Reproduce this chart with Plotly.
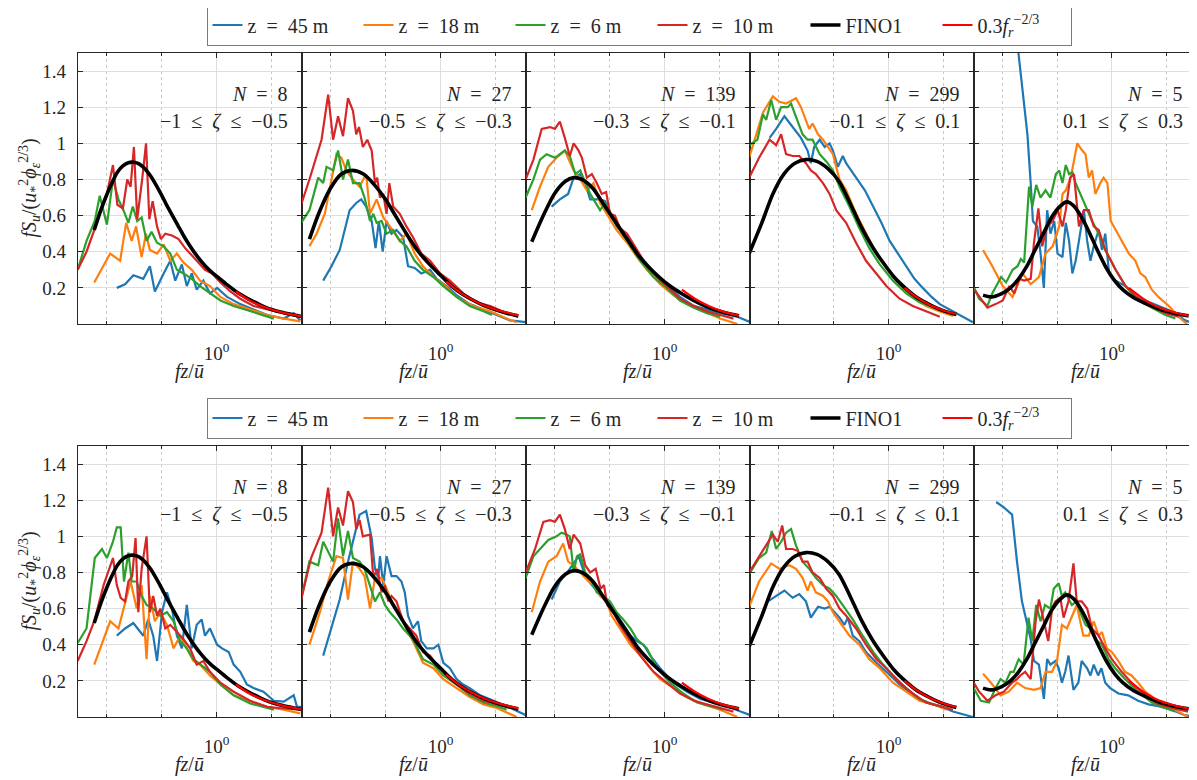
import numpy as np
import plotly.graph_objects as go

# ------------------------------------------------------------------ labels
series_labels = ["z\u2002=\u200245 m", "z\u2002=\u200218 m", "z\u2002=\u20026 m", "z\u2002=\u200210 m"]
fino_label = "FINO1"
law_label = "0.3<i>f<sub>r</sub></i><sup>\u22122/3</sup>"
n_labels = ["8", "27", "139", "299", "5"]
zeta_labels = ["\u22121\u2002\u2264\u2002<i>\u03b6</i>\u2002\u2264\u2002\u22120.5",
               "\u22120.5\u2002\u2264\u2002<i>\u03b6</i>\u2002\u2264\u2002\u22120.3",
               "\u22120.3\u2002\u2264\u2002<i>\u03b6</i>\u2002\u2264\u2002\u22120.1",
               "\u22120.1\u2002\u2264\u2002<i>\u03b6</i>\u2002\u2264\u20020.1",
               "0.1\u2002\u2264\u2002<i>\u03b6</i>\u2002\u2264\u20020.3"]
y_tick_values = [0.2, 0.4, 0.6, 0.8, 1.0, 1.2, 1.4]
y_tick_text = ["0.2", "0.4", "0.6", "0.8", "1", "1.2", "1.4"]
x_major_ticks = [1.0]
x_major_text = ["10<sup>0</sup>"]
x_minor_ticks = [0.01, 0.1, 10.0]
x_label = "<i>fz</i>/<i>\u016b</i>"
y_label = "<i>fS<sub>u</sub></i>/(<i>u</i><sub>*</sub><sup>2</sup><i>\u03d5</i><sub><i>\u03b5</i></sub><sup>2/3</sup>)"

# ------------------------------------------------------------------ data (log10 of fz/u, normalised spectrum)
# FINO1 model curve (same in both rows), per stability class
fino_c1_lx = [-2.22,-2.1,-2.0,-1.9,-1.8,-1.7,-1.6,-1.5,-1.4,-1.3,-1.2,-1.1,-1.0,-0.9,-0.8,-0.7,-0.6,-0.5,-0.4,-0.3,-0.2,-0.1,0.0,0.2,0.4,0.6,0.8,1.0,1.2,1.4,1.54]
fino_c1_y = [0.52,0.63,0.71,0.78,0.84,0.875,0.893,0.895,0.885,0.86,0.82,0.77,0.715,0.655,0.60,0.545,0.49,0.44,0.395,0.355,0.32,0.29,0.265,0.215,0.17,0.135,0.105,0.08,0.063,0.05,0.042]
fino_c2_lx = [-2.38,-2.2,-2.0,-1.8,-1.62,-1.4,-1.2,-1.0,-0.8,-0.6,-0.4,-0.2,0.0,0.2,0.4,0.6,0.8,1.0,1.2,1.41]
fino_c2_y = [0.47,0.62,0.75,0.83,0.85,0.83,0.77,0.69,0.59,0.49,0.40,0.33,0.27,0.21,0.165,0.13,0.10,0.078,0.06,0.045]
fino_c3_lx = [-2.41,-2.2,-2.0,-1.8,-1.65,-1.5,-1.3,-1.1,-0.9,-0.7,-0.5,-0.3,-0.1,0.1,0.3,0.5,0.7,0.9,1.1,1.35]
fino_c3_y = [0.455,0.60,0.72,0.79,0.81,0.80,0.75,0.66,0.57,0.48,0.39,0.32,0.26,0.21,0.17,0.135,0.105,0.08,0.062,0.045]
fino_c4_lx = [-2.53,-2.3,-2.1,-1.9,-1.7,-1.5,-1.3,-1.1,-0.9,-0.7,-0.5,-0.3,-0.1,0.1,0.3,0.5,0.7,0.9,1.1,1.23]
fino_c4_y = [0.39,0.56,0.72,0.83,0.89,0.91,0.90,0.86,0.79,0.67,0.54,0.43,0.34,0.26,0.20,0.15,0.115,0.085,0.063,0.052]
fino_c5_lx = [-2.35,-2.2,-2.0,-1.85,-1.7,-1.55,-1.4,-1.25,-1.1,-0.95,-0.82,-0.7,-0.55,-0.4,-0.25,-0.1,0.05,0.2,0.4,0.6,0.8,1.0,1.2,1.4]
fino_c5_y = [0.16,0.15,0.17,0.20,0.25,0.32,0.41,0.50,0.59,0.65,0.676,0.655,0.59,0.50,0.40,0.31,0.24,0.19,0.145,0.115,0.09,0.07,0.055,0.045]

# 0.3 f_r^(-2/3) inertial-range line
law_c1_lx = [0.35,0.6,0.9,1.2,1.54]
law_c1_y = [0.18,0.13,0.09,0.063,0.042]
law_c2_lx = [0.1,0.4,0.7,1.0,1.41]
law_c2_y = [0.235,0.165,0.115,0.08,0.048]
law_c3_lx = [0.315,0.55,0.8,1.05,1.35]
law_c3_y = [0.19,0.14,0.10,0.07,0.046]
law_c4_lx = [0.29,0.5,0.75,1.0,1.23]
law_c4_y = [0.20,0.15,0.105,0.075,0.055]
law_c5_lx = [0.31,0.55,0.8,1.1,1.4]
law_c5_y = [0.20,0.145,0.10,0.068,0.045]

# ---------- row 1
r1c1_45_lx = [-1.81,-1.66,-1.51,-1.33,-1.21,-1.12,-0.96,-0.84,-0.75,-0.63,-0.54,-0.45,-0.36,-0.24,-0.12,0.01,0.19,0.43,0.67,0.92,1.22,1.40,1.52]
r1c1_45_y = [0.20,0.22,0.27,0.25,0.32,0.18,0.28,0.35,0.24,0.33,0.21,0.28,0.19,0.24,0.17,0.20,0.15,0.11,0.08,0.05,0.03,0.06,0.02]
r1c1_18_lx = [-2.22,-1.93,-1.75,-1.64,-1.54,-1.46,-1.36,-1.28,-1.21,-1.08,-0.96,-0.84,-0.72,-0.60,-0.45,-0.30,-0.12,0.07,0.31,0.61,0.92,1.22,1.52]
r1c1_18_y = [0.23,0.39,0.35,0.56,0.46,0.54,0.37,0.50,0.41,0.39,0.44,0.35,0.39,0.34,0.30,0.24,0.21,0.15,0.11,0.08,0.05,0.03,0.015]
r1c1_6_lx = [-2.52,-2.36,-2.21,-2.12,-1.99,-1.88,-1.78,-1.69,-1.60,-1.52,-1.44,-1.36,-1.27,-1.18,-1.08,-0.96,-0.84,-0.72,-0.60,-0.45,-0.30,-0.12,0.07,0.31,0.61,0.92,1.04]
r1c1_6_y = [0.30,0.46,0.57,0.71,0.55,0.80,0.69,0.63,0.56,0.65,0.57,0.59,0.46,0.51,0.45,0.43,0.39,0.30,0.28,0.25,0.21,0.17,0.13,0.10,0.07,0.04,0.03]
r1c1_10_lx = [-2.52,-2.36,-2.22,-2.12,-1.99,-1.88,-1.80,-1.70,-1.62,-1.56,-1.50,-1.44,-1.35,-1.28,-1.22,-1.16,-1.08,-1.01,-0.93,-0.81,-0.69,-0.57,-0.45,-0.33,-0.21,-0.08,0.07,0.25,0.43,0.67,0.92,1.22,1.52]
r1c1_10_y = [0.30,0.40,0.52,0.62,0.72,0.88,0.66,0.64,0.80,0.76,0.98,0.58,0.80,1.00,0.58,0.68,0.54,0.47,0.50,0.49,0.47,0.42,0.38,0.34,0.30,0.28,0.23,0.18,0.14,0.10,0.08,0.06,0.04]

r1c2_45_lx = [-2.13,-1.98,-1.83,-1.65,-1.53,-1.44,-1.35,-1.25,-1.18,-1.12,-1.05,-0.98,-0.89,-0.80,-0.68,-0.59,-0.47,-0.35,-0.19,-0.07,0.11,0.29,0.53,0.78,1.02,1.26,1.55]
r1c2_45_y = [0.24,0.32,0.41,0.63,0.67,0.69,0.65,0.57,0.42,0.57,0.40,0.57,0.50,0.52,0.48,0.32,0.31,0.28,0.30,0.25,0.21,0.16,0.11,0.08,0.05,0.02,0.01]
r1c2_18_lx = [-2.38,-2.25,-2.10,-1.98,-1.89,-1.80,-1.71,-1.59,-1.47,-1.35,-1.28,-1.16,-1.04,-0.92,-0.74,-0.62,-0.47,-0.32,-0.13,0.05,0.29,0.59,0.90,1.20,1.38]
r1c2_18_y = [0.43,0.50,0.61,0.81,0.94,0.92,0.85,0.80,0.76,0.83,0.61,0.69,0.59,0.54,0.46,0.50,0.39,0.32,0.26,0.22,0.15,0.10,0.07,0.03,0.01]
r1c2_6_lx = [-2.53,-2.38,-2.22,-2.13,-2.07,-1.95,-1.86,-1.77,-1.68,-1.59,-1.47,-1.38,-1.28,-1.22,-1.16,-1.07,-0.98,-0.86,-0.74,-0.62,-0.47,-0.32,-0.13,0.05,0.29,0.53,0.78,0.93]
r1c2_6_y = [0.56,0.63,0.81,0.78,0.87,0.85,0.96,0.80,0.91,0.78,0.78,0.70,0.57,0.61,0.56,0.57,0.50,0.52,0.46,0.43,0.35,0.30,0.26,0.21,0.15,0.10,0.07,0.05]
r1c2_10_lx = [-2.53,-2.38,-2.16,-2.04,-1.95,-1.86,-1.77,-1.68,-1.59,-1.53,-1.48,-1.41,-1.33,-1.25,-1.19,-1.15,-1.10,-1.04,-0.98,-0.93,-0.86,-0.74,-0.62,-0.50,-0.35,-0.19,-0.01,0.17,0.41,0.65,0.90,1.20,1.41]
r1c2_10_y = [0.66,0.80,1.02,1.27,1.02,1.15,1.04,1.25,1.18,1.05,1.09,0.98,1.02,0.96,0.78,0.81,0.70,0.72,0.61,0.78,0.65,0.61,0.54,0.48,0.39,0.35,0.28,0.24,0.17,0.12,0.10,0.06,0.04]

r1c3_45_lx = [-2.05,-1.90,-1.75,-1.65,-1.53,-1.44,-1.35,-1.17,-1.08,-0.99,-0.87,-0.75,-0.62,-0.44,-0.20,0.04,0.28,0.53,0.77,1.01,1.32,1.56]
r1c3_45_y = [0.65,0.69,0.72,0.81,0.83,0.78,0.69,0.69,0.68,0.62,0.54,0.50,0.46,0.37,0.28,0.21,0.15,0.10,0.08,0.06,0.04,0.01]
r1c3_18_lx = [-2.41,-2.26,-2.11,-1.96,-1.81,-1.65,-1.53,-1.41,-1.29,-1.17,-1.05,-0.87,-0.68,-0.50,-0.32,-0.08,0.16,0.41,0.71,1.01,1.32]
r1c3_18_y = [0.63,0.76,0.87,0.92,0.96,0.85,0.80,0.74,0.78,0.67,0.61,0.52,0.45,0.37,0.30,0.22,0.16,0.11,0.07,0.03,0.0]
r1c3_6_lx = [-2.52,-2.38,-2.26,-2.14,-1.99,-1.81,-1.72,-1.62,-1.53,-1.44,-1.35,-1.17,-1.08,-0.96,-0.81,-0.62,-0.44,-0.20,0.04,0.28,0.53,0.77,1.01]
r1c3_6_y = [0.70,0.80,0.91,0.94,0.92,0.96,0.93,0.83,0.85,0.78,0.72,0.63,0.67,0.59,0.52,0.43,0.35,0.26,0.20,0.13,0.09,0.06,0.04]
r1c3_10_lx = [-2.52,-2.38,-2.23,-2.08,-1.99,-1.90,-1.81,-1.72,-1.65,-1.56,-1.50,-1.41,-1.32,-1.23,-1.14,-1.06,-0.99,-0.90,-0.81,-0.68,-0.50,-0.32,-0.14,0.04,0.28,0.53,0.77,1.01,1.25]
r1c3_10_y = [0.80,0.91,1.08,1.09,1.08,1.12,1.03,0.93,1.00,0.96,0.92,0.81,0.83,0.78,0.72,0.73,0.61,0.60,0.53,0.50,0.41,0.32,0.26,0.21,0.14,0.10,0.07,0.05,0.03]

r1c4_45_lx = [-2.16,-2.04,-1.89,-1.74,-1.59,-1.47,-1.41,-1.35,-1.25,-1.16,-1.07,-1.01,-0.92,-0.83,-0.77,-0.68,-0.59,-0.43,-0.28,-0.13,0.02,0.17,0.32,0.47,0.62,0.78,0.93,1.08,1.23,1.38,1.53]
r1c4_45_y = [1.03,1.08,1.15,1.09,1.03,0.96,0.89,0.98,1.02,0.98,1.00,0.96,0.87,0.93,0.89,0.85,0.81,0.74,0.65,0.56,0.46,0.39,0.32,0.25,0.20,0.15,0.11,0.085,0.06,0.035,0.01]
r1c4_18_lx = [-2.53,-2.28,-2.10,-1.98,-1.86,-1.80,-1.68,-1.59,-1.50,-1.44,-1.38,-1.28,-1.19,-1.10,-1.01,-0.89,-0.77,-0.59,-0.41,-0.22,-0.04,0.20,0.44,0.68,0.93,1.17]
r1c4_18_y = [0.92,1.17,1.26,1.23,1.22,1.23,1.25,1.20,1.13,1.08,1.11,1.05,1.02,0.98,0.94,0.80,0.74,0.61,0.50,0.39,0.31,0.22,0.15,0.10,0.07,0.045]
r1c4_6_lx = [-2.53,-2.38,-2.28,-2.22,-2.13,-2.04,-1.95,-1.83,-1.77,-1.68,-1.56,-1.47,-1.38,-1.25,-1.13,-1.01,-0.89,-0.71,-0.53,-0.35,-0.16,0.08,0.32,0.56,0.81,1.05,1.23]
r1c4_6_y = [0.99,1.02,1.16,1.13,1.24,1.13,1.20,1.20,1.22,1.15,1.05,1.02,1.02,0.94,0.90,0.85,0.76,0.65,0.53,0.42,0.33,0.24,0.17,0.12,0.09,0.065,0.05]
r1c4_10_lx = [-2.53,-2.35,-2.16,-2.04,-1.95,-1.86,-1.74,-1.62,-1.50,-1.41,-1.32,-1.19,-1.07,-0.95,-0.77,-0.59,-0.41,-0.22,-0.04,0.20,0.44,0.68,0.93]
r1c4_10_y = [0.81,0.92,1.02,0.99,1.05,0.94,0.93,0.93,0.89,0.85,0.83,0.78,0.72,0.63,0.56,0.45,0.35,0.28,0.21,0.14,0.10,0.07,0.04]

r1c5_45_lx = [-1.74,-1.63,-1.54,-1.48,-1.44,-1.36,-1.30,-1.24,-1.18,-1.12,-1.05,-0.99,-0.90,-0.84,-0.78,-0.72,-0.66,-0.60,-0.51,-0.45,-0.39,-0.33,-0.24,-0.18,-0.12,-0.05,0.07,0.25,0.43,0.61,0.85,1.10,1.34,1.52]
r1c5_45_y = [1.60,1.29,1.05,0.78,0.57,0.54,0.39,0.20,0.63,0.50,0.57,0.39,0.37,0.56,0.46,0.28,0.35,0.46,0.63,0.46,0.35,0.43,0.52,0.41,0.50,0.28,0.24,0.21,0.15,0.13,0.10,0.07,0.02,0.0]
r1c5_18_lx = [-2.35,-2.18,-1.99,-1.81,-1.63,-1.48,-1.33,-1.21,-1.08,-0.96,-0.90,-0.84,-0.75,-0.69,-0.63,-0.54,-0.48,-0.42,-0.36,-0.30,-0.21,-0.15,-0.08,-0.02,0.07,0.19,0.31,0.43,0.52,0.61,0.73,0.85,1.04,1.22,1.37]
r1c5_18_y = [0.41,0.32,0.21,0.15,0.28,0.22,0.26,0.39,0.43,0.54,0.72,0.74,0.81,0.91,1.00,0.96,0.94,0.81,0.85,0.72,0.78,0.81,0.78,0.57,0.52,0.46,0.39,0.35,0.28,0.26,0.19,0.15,0.10,0.04,0.0]
r1c5_6_lx = [-2.51,-2.42,-2.27,-2.18,-2.02,-1.93,-1.81,-1.72,-1.66,-1.60,-1.51,-1.45,-1.38,-1.30,-1.21,-1.12,-1.02,-0.96,-0.90,-0.84,-0.78,-0.72,-0.66,-0.57,-0.48,-0.36,-0.24,-0.12,0.07,0.25,0.49,0.73,0.98,1.16]
r1c5_6_y = [0.20,0.14,0.10,0.17,0.26,0.23,0.30,0.32,0.36,0.34,0.76,0.65,0.77,0.70,0.74,0.70,0.83,0.85,0.78,0.88,0.83,0.84,0.78,0.72,0.65,0.57,0.50,0.41,0.30,0.21,0.13,0.09,0.05,0.03]
r1c5_10_lx = [-2.51,-2.42,-2.27,-2.12,-1.99,-1.87,-1.78,-1.69,-1.60,-1.48,-1.42,-1.34,-1.27,-1.18,-1.08,-0.99,-0.90,-0.84,-0.76,-0.69,-0.60,-0.51,-0.42,-0.33,-0.24,-0.12,0.07,0.25,0.49,0.73,0.98,1.22]
r1c5_10_y = [0.19,0.15,0.09,0.11,0.13,0.21,0.17,0.25,0.24,0.25,0.45,0.64,0.43,0.54,0.57,0.63,0.54,0.63,0.81,0.83,0.54,0.63,0.63,0.54,0.52,0.41,0.30,0.21,0.14,0.10,0.06,0.04]

# ---------- row 2
r2c1_45_lx = [-1.81,-1.66,-1.51,-1.33,-1.24,-1.15,-1.08,-0.99,-0.90,-0.81,-0.72,-0.63,-0.54,-0.45,-0.36,-0.27,-0.21,-0.12,0.01,0.10,0.22,0.31,0.43,0.55,0.67,0.85,1.04,1.22,1.40,1.46,1.54]
r2c1_45_y = [0.45,0.49,0.52,0.45,0.54,0.45,0.31,0.58,0.69,0.60,0.45,0.38,0.62,0.38,0.51,0.54,0.45,0.49,0.40,0.38,0.36,0.29,0.25,0.18,0.16,0.14,0.09,0.085,0.12,0.056,0.056]
r2c1_18_lx = [-2.22,-1.93,-1.78,-1.63,-1.56,-1.45,-1.36,-1.27,-1.21,-1.12,-1.02,-0.90,-0.78,-0.66,-0.54,-0.42,-0.30,-0.12,0.07,0.31,0.61,0.92,1.22,1.52]
r2c1_18_y = [0.29,0.53,0.49,0.67,0.75,0.60,0.73,0.32,0.67,0.53,0.58,0.51,0.38,0.45,0.38,0.31,0.29,0.23,0.18,0.12,0.085,0.056,0.04,0.02]
r2c1_6_lx = [-2.52,-2.36,-2.21,-2.08,-1.99,-1.88,-1.81,-1.74,-1.68,-1.60,-1.54,-1.45,-1.36,-1.27,-1.15,-1.02,-0.90,-0.78,-0.66,-0.54,-0.42,-0.30,-0.12,0.07,0.31,0.61,0.92,1.04]
r2c1_6_y = [0.41,0.49,0.88,0.93,0.88,0.97,1.05,1.05,0.75,0.91,0.75,0.75,0.67,0.62,0.60,0.56,0.58,0.53,0.42,0.38,0.32,0.29,0.25,0.18,0.12,0.075,0.05,0.04]
r2c1_10_lx = [-2.52,-2.36,-2.22,-2.05,-1.88,-1.81,-1.74,-1.66,-1.60,-1.53,-1.47,-1.42,-1.36,-1.27,-1.21,-1.15,-1.08,-1.02,-0.93,-0.84,-0.72,-0.60,-0.48,-0.36,-0.24,-0.12,0.07,0.31,0.61,0.92,1.22,1.52]
r2c1_10_y = [0.31,0.42,0.53,0.73,0.88,0.73,0.66,0.64,0.75,0.78,0.99,0.58,0.82,1.00,0.58,0.67,0.56,0.60,0.49,0.51,0.47,0.43,0.38,0.29,0.31,0.25,0.19,0.14,0.09,0.056,0.047,0.04]

r2c2_45_lx = [-2.13,-1.98,-1.83,-1.68,-1.56,-1.47,-1.35,-1.25,-1.19,-1.13,-1.10,-1.04,-0.98,-0.89,-0.80,-0.71,-0.65,-0.59,-0.50,-0.41,-0.35,-0.25,-0.13,-0.04,0.05,0.17,0.29,0.41,0.53,0.72,0.96,1.20,1.55]
r2c2_45_y = [0.34,0.49,0.65,0.86,1.00,1.12,1.14,0.99,0.82,0.77,0.89,0.73,0.89,0.78,0.78,0.75,0.69,0.56,0.49,0.53,0.42,0.38,0.38,0.40,0.30,0.27,0.21,0.18,0.16,0.12,0.09,0.06,0.01]
r2c2_18_lx = [-2.38,-2.19,-2.04,-1.89,-1.77,-1.68,-1.59,-1.47,-1.38,-1.28,-1.19,-1.07,-0.98,-0.86,-0.74,-0.62,-0.47,-0.32,-0.13,0.05,0.29,0.53,0.78,1.02,1.38]
r2c2_18_y = [0.40,0.58,0.75,0.89,0.88,0.65,0.86,0.82,0.78,0.60,0.77,0.77,0.71,0.62,0.58,0.49,0.40,0.30,0.27,0.21,0.16,0.11,0.07,0.05,0.0]
r2c2_6_lx = [-2.53,-2.38,-2.22,-2.13,-1.95,-1.86,-1.77,-1.68,-1.59,-1.47,-1.38,-1.28,-1.19,-1.10,-1.01,-0.92,-0.80,-0.68,-0.50,-0.32,-0.13,0.05,0.29,0.53,0.78,1.02,1.20]
r2c2_6_y = [0.65,0.86,0.84,0.97,0.86,1.10,0.89,1.03,0.88,0.86,0.82,0.73,0.64,0.69,0.62,0.58,0.54,0.49,0.43,0.32,0.29,0.23,0.18,0.12,0.08,0.06,0.04]
r2c2_10_lx = [-2.53,-2.35,-2.16,-2.04,-1.95,-1.86,-1.77,-1.68,-1.59,-1.53,-1.47,-1.41,-1.28,-1.22,-1.15,-1.07,-1.01,-0.95,-0.89,-0.80,-0.68,-0.56,-0.44,-0.32,-0.19,-0.07,0.11,0.29,0.53,0.78,1.02,1.41]
r2c2_10_y = [0.65,0.88,1.02,1.27,1.00,1.16,1.06,1.25,1.19,1.04,1.09,1.00,1.01,0.77,0.82,0.69,0.73,0.64,0.67,0.64,0.53,0.49,0.45,0.36,0.34,0.29,0.23,0.18,0.13,0.09,0.07,0.04]

r2c3_45_lx = [-2.05,-1.90,-1.72,-1.56,-1.44,-1.32,-1.20,-1.08,-0.93,-0.81,-0.62,-0.50,-0.38,-0.26,-0.08,0.16,0.41,0.65,0.89,1.13,1.38,1.56]
r2c3_45_y = [0.65,0.75,0.82,0.89,0.78,0.73,0.69,0.65,0.60,0.54,0.45,0.42,0.40,0.34,0.27,0.19,0.14,0.10,0.08,0.06,0.03,0.01]
r2c3_18_lx = [-2.41,-2.26,-2.11,-1.96,-1.84,-1.75,-1.65,-1.53,-1.38,-1.29,-1.17,-1.05,-0.96,-0.81,-0.62,-0.44,-0.26,-0.08,0.16,0.41,0.71,1.01,1.32]
r2c3_18_y = [0.58,0.75,0.86,0.89,0.96,0.86,0.84,0.80,0.75,0.73,0.67,0.64,0.56,0.49,0.40,0.34,0.27,0.21,0.16,0.11,0.07,0.04,0.0]
r2c3_6_lx = [-2.52,-2.38,-2.26,-2.11,-1.96,-1.87,-1.78,-1.72,-1.65,-1.59,-1.53,-1.44,-1.35,-1.23,-1.11,-0.99,-0.87,-0.75,-0.62,-0.50,-0.32,-0.14,0.10,0.34,0.59,0.83,1.07]
r2c3_6_y = [0.77,0.89,0.93,0.98,1.00,1.02,1.01,1.00,0.80,0.89,0.90,0.80,0.77,0.69,0.67,0.64,0.58,0.54,0.49,0.43,0.38,0.27,0.19,0.13,0.08,0.06,0.04]
r2c3_10_lx = [-2.52,-2.35,-2.20,-2.08,-1.99,-1.90,-1.81,-1.72,-1.65,-1.53,-1.44,-1.35,-1.25,-1.16,-1.10,-1.04,-0.93,-0.81,-0.62,-0.44,-0.20,0.04,0.28,0.53,0.77,1.01,1.25]
r2c3_10_y = [0.80,0.93,1.08,1.09,1.08,1.12,1.04,0.93,1.01,0.96,0.84,0.80,0.82,0.71,0.73,0.62,0.58,0.51,0.42,0.34,0.25,0.19,0.13,0.09,0.07,0.05,0.03]

r2c4_45_lx = [-2.19,-2.04,-1.89,-1.74,-1.62,-1.50,-1.41,-1.28,-1.16,-1.07,-0.98,-0.89,-0.80,-0.74,-0.65,-0.53,-0.41,-0.22,-0.04,0.20,0.44,0.68,0.93,1.17,1.53]
r2c4_45_y = [0.64,0.67,0.70,0.66,0.68,0.64,0.55,0.61,0.60,0.61,0.58,0.55,0.51,0.55,0.45,0.42,0.36,0.30,0.25,0.18,0.12,0.08,0.06,0.03,0.0]
r2c4_18_lx = [-2.53,-2.35,-2.13,-1.98,-1.80,-1.68,-1.56,-1.47,-1.41,-1.32,-1.19,-1.10,-1.01,-0.89,-0.71,-0.53,-0.35,-0.16,0.08,0.32,0.56,0.81,1.05]
r2c4_18_y = [0.61,0.75,0.85,0.82,0.84,0.82,0.77,0.70,0.75,0.69,0.67,0.64,0.58,0.53,0.45,0.40,0.32,0.27,0.19,0.14,0.09,0.07,0.04]
r2c4_6_lx = [-2.53,-2.35,-2.22,-2.12,-2.04,-1.95,-1.86,-1.77,-1.68,-1.56,-1.44,-1.32,-1.19,-1.07,-0.95,-0.83,-0.65,-0.47,-0.28,-0.10,0.08,0.32,0.56,0.81,1.05]
r2c4_6_y = [0.79,0.88,0.91,1.03,0.93,0.97,1.02,1.04,0.95,0.86,0.82,0.77,0.73,0.71,0.67,0.62,0.54,0.45,0.36,0.29,0.23,0.16,0.10,0.07,0.05]
r2c4_10_lx = [-2.53,-2.35,-2.19,-2.10,-2.01,-1.93,-1.86,-1.74,-1.65,-1.56,-1.47,-1.38,-1.25,-1.13,-1.01,-0.89,-0.77,-0.59,-0.41,-0.22,-0.04,0.20,0.44,0.68,0.93,1.17]
r2c4_10_y = [0.80,0.89,0.97,1.01,0.97,1.06,0.93,0.93,0.92,0.86,0.86,0.80,0.77,0.71,0.67,0.60,0.56,0.49,0.40,0.32,0.27,0.19,0.13,0.08,0.06,0.04]

r2c5_45_lx = [-2.11,-1.97,-1.82,-1.73,-1.64,-1.55,-1.48,-1.42,-1.33,-1.24,-1.18,-1.12,-1.03,-0.97,-0.91,-0.85,-0.79,-0.70,-0.61,-0.55,-0.45,-0.39,-0.33,-0.25,-0.19,-0.12,-0.03,0.12,0.30,0.48,0.67,0.85,1.09,1.33,1.52]
r2c5_45_y = [1.19,1.16,1.12,0.86,0.64,0.53,0.43,0.31,0.29,0.10,0.32,0.29,0.31,0.27,0.19,0.25,0.34,0.15,0.19,0.31,0.27,0.23,0.29,0.23,0.27,0.19,0.16,0.13,0.12,0.09,0.07,0.06,0.04,0.01,0.0]
r2c5_18_lx = [-2.35,-2.18,-2.03,-1.88,-1.73,-1.58,-1.42,-1.30,-1.21,-1.09,-1.00,-0.91,-0.82,-0.73,-0.64,-0.52,-0.42,-0.33,-0.24,-0.18,-0.09,0.0,0.12,0.24,0.36,0.48,0.61,0.79,0.97,1.21,1.39]
r2c5_18_y = [0.24,0.18,0.12,0.14,0.19,0.16,0.15,0.16,0.25,0.25,0.31,0.51,0.49,0.56,0.62,0.45,0.45,0.53,0.45,0.47,0.38,0.36,0.31,0.25,0.23,0.19,0.14,0.10,0.07,0.03,0.0]
r2c5_6_lx = [-2.52,-2.39,-2.24,-2.12,-2.03,-1.94,-1.85,-1.79,-1.70,-1.61,-1.52,-1.45,-1.38,-1.30,-1.22,-1.12,-1.06,-0.97,-0.91,-0.85,-0.73,-0.64,-0.55,-0.48,-0.39,-0.30,-0.18,-0.06,0.06,0.24,0.48,0.73,0.97,1.15]
r2c5_6_y = [0.16,0.09,0.08,0.16,0.21,0.19,0.25,0.25,0.32,0.29,0.55,0.42,0.62,0.53,0.62,0.60,0.71,0.74,0.67,0.69,0.62,0.64,0.56,0.51,0.49,0.43,0.40,0.32,0.27,0.21,0.14,0.08,0.05,0.03]
r2c5_10_lx = [-2.52,-2.42,-2.27,-2.12,-1.97,-1.82,-1.73,-1.67,-1.58,-1.48,-1.39,-1.33,-1.24,-1.16,-1.09,-1.03,-0.94,-0.88,-0.79,-0.70,-0.64,-0.55,-0.45,-0.36,-0.24,-0.12,0.0,0.18,0.36,0.61,0.85,1.09,1.39]
r2c5_10_y = [0.19,0.14,0.09,0.12,0.14,0.19,0.21,0.23,0.25,0.21,0.53,0.65,0.53,0.42,0.60,0.64,0.66,0.55,0.64,0.85,0.64,0.64,0.60,0.49,0.45,0.38,0.32,0.25,0.19,0.12,0.07,0.05,0.03]

# ------------------------------------------------------------------ assemble
fino = [(fino_c1_lx, fino_c1_y), (fino_c2_lx, fino_c2_y), (fino_c3_lx, fino_c3_y),
        (fino_c4_lx, fino_c4_y), (fino_c5_lx, fino_c5_y)]
law = [(law_c1_lx, law_c1_y), (law_c2_lx, law_c2_y), (law_c3_lx, law_c3_y),
       (law_c4_lx, law_c4_y), (law_c5_lx, law_c5_y)]
panels = {
    (0, 0): [(r1c1_45_lx, r1c1_45_y), (r1c1_18_lx, r1c1_18_y), (r1c1_6_lx, r1c1_6_y), (r1c1_10_lx, r1c1_10_y)],
    (0, 1): [(r1c2_45_lx, r1c2_45_y), (r1c2_18_lx, r1c2_18_y), (r1c2_6_lx, r1c2_6_y), (r1c2_10_lx, r1c2_10_y)],
    (0, 2): [(r1c3_45_lx, r1c3_45_y), (r1c3_18_lx, r1c3_18_y), (r1c3_6_lx, r1c3_6_y), (r1c3_10_lx, r1c3_10_y)],
    (0, 3): [(r1c4_45_lx, r1c4_45_y), (r1c4_18_lx, r1c4_18_y), (r1c4_6_lx, r1c4_6_y), (r1c4_10_lx, r1c4_10_y)],
    (0, 4): [(r1c5_45_lx, r1c5_45_y), (r1c5_18_lx, r1c5_18_y), (r1c5_6_lx, r1c5_6_y), (r1c5_10_lx, r1c5_10_y)],
    (1, 0): [(r2c1_45_lx, r2c1_45_y), (r2c1_18_lx, r2c1_18_y), (r2c1_6_lx, r2c1_6_y), (r2c1_10_lx, r2c1_10_y)],
    (1, 1): [(r2c2_45_lx, r2c2_45_y), (r2c2_18_lx, r2c2_18_y), (r2c2_6_lx, r2c2_6_y), (r2c2_10_lx, r2c2_10_y)],
    (1, 2): [(r2c3_45_lx, r2c3_45_y), (r2c3_18_lx, r2c3_18_y), (r2c3_6_lx, r2c3_6_y), (r2c3_10_lx, r2c3_10_y)],
    (1, 3): [(r2c4_45_lx, r2c4_45_y), (r2c4_18_lx, r2c4_18_y), (r2c4_6_lx, r2c4_6_y), (r2c4_10_lx, r2c4_10_y)],
    (1, 4): [(r2c5_45_lx, r2c5_45_y), (r2c5_18_lx, r2c5_18_y), (r2c5_6_lx, r2c5_6_y), (r2c5_10_lx, r2c5_10_y)],
}

# ------------------------------------------------------------------ style / layout (positions in page pixels)
OFF = 8                      # default page margin of the html body
W, H = 1197 - OFF, 780 - OFF  # figure size so that the page fits the window exactly
FONT = "Liberation Serif"
TXT = "#262626"
series_colors = ["#1f77b4", "#ff7f0e", "#2ca02c", "#d62728"]
legend_widths = [106, 107, 97, 108, 87, 88]
col_edges = [77.7, 301.7, 525.7, 749.7, 973.7, 1196.5]
row_top = [53.0, 446.0]
row_bot = [324.0, 717.0]
legend_center_y = [25.0, 418.0]


def fx(px):
    return (px - OFF) / W


def fy(py):
    return 1 - (py - OFF) / H


fig = go.Figure()
layout = dict(
    width=W, height=H, margin=dict(l=0, r=0, t=0, b=0, autoexpand=False),
    paper_bgcolor="white", plot_bgcolor="white",
    font=dict(family=FONT, size=19, color=TXT),
    annotations=[],
)

for r in range(2):
    leg = "legend" if r == 0 else "legend2"
    for c in range(5):
        k = r * 5 + c + 1
        xa = "x" if k == 1 else f"x{k}"
        ya = "y" if k == 1 else f"y{k}"
        first = (c == 0)
        for s, (lx, yy) in enumerate(panels[(r, c)]):
            fig.add_trace(go.Scatter(
                x=10 ** np.array(lx), y=yy, mode="lines", xaxis=xa, yaxis=ya,
                line=dict(color=series_colors[s], width=2.2),
                name=series_labels[s], showlegend=first, legend=leg,
                legendwidth=legend_widths[s]))
        flx, fyv = fino[c]
        fig.add_trace(go.Scatter(
            x=10 ** np.array(flx), y=fyv, mode="lines", xaxis=xa, yaxis=ya,
            line=dict(color="black", width=3.6, shape="spline", smoothing=0.8),
            name=fino_label, showlegend=first, legend=leg, legendwidth=legend_widths[4]))
        llx, ly = law[c]
        fig.add_trace(go.Scatter(
            x=10 ** np.array(llx), y=ly, mode="lines", xaxis=xa, yaxis=ya,
            line=dict(color="#ff0000", width=2.2, shape="spline", smoothing=0.8),
            name=law_label, showlegend=first, legend=leg, legendwidth=legend_widths[5]))

        axname = "xaxis" if k == 1 else f"xaxis{k}"
        ayname = "yaxis" if k == 1 else f"yaxis{k}"
        layout[axname] = dict(
            type="log", range=[-2.52, 1.545], domain=[fx(col_edges[c]), fx(col_edges[c + 1])], anchor=ya,
            tickmode="array", tickvals=x_major_ticks, ticktext=x_major_text,
            ticks="inside", ticklen=5, tickcolor=TXT, tickwidth=1,
            showline=True, linecolor=TXT, linewidth=1, mirror="ticks",
            showgrid=True, gridcolor="#dedede", gridwidth=1, zeroline=False,
            minor=dict(tickmode="array", tickvals=x_minor_ticks, ticks="inside", ticklen=3,
                       tickcolor=TXT, showgrid=True, griddash="dot", gridcolor="#c8c8c8", gridwidth=1),
            tickfont=dict(family=FONT, size=19, color=TXT), ticklabelstandoff=12,
        )
        layout[ayname] = dict(
            range=[0, 1.5], domain=[fy(row_bot[r]), fy(row_top[r])], anchor=xa,
            tickmode="array", tickvals=y_tick_values, ticktext=y_tick_text,
            showticklabels=first,
            ticks="inside", ticklen=5, tickcolor=TXT, tickwidth=1,
            showline=True, linecolor=TXT, linewidth=1, mirror="ticks",
            showgrid=True, gridcolor="#dedede", gridwidth=1, zeroline=False,
            tickfont=dict(family=FONT, size=19, color=TXT), ticklabelstandoff=7,
        )
        ph = row_bot[r] - row_top[r]
        pw = col_edges[c + 1] - col_edges[c]
        xd = "x domain" if k == 1 else f"x{k} domain"
        yd = "y domain" if k == 1 else f"y{k} domain"
        layout["annotations"] += [
            dict(xref=xd, yref=yd, x=1 - 12 / pw, y=(ph - 41) / ph,
                 xanchor="right", yanchor="middle", showarrow=False,
                 text=f"<i>N</i>\u2002=\u2002{n_labels[c]}", font=dict(family=FONT, size=20, color=TXT)),
            dict(xref=xd, yref=yd, x=1 - 12 / pw, y=(ph - 68) / ph,
                 xanchor="right", yanchor="middle", showarrow=False,
                 text=zeta_labels[c], font=dict(family=FONT, size=20, color=TXT)),
            dict(xref=xd, yref=yd, x=0.5, y=-(47.0 / ph), xanchor="center", yanchor="middle",
                 showarrow=False, text=x_label, font=dict(family=FONT, size=20, color=TXT)),
        ]
        if first:
            layout["annotations"].append(
                dict(xref=xd, yref=yd, x=-(col_edges[0] - 29) / pw, y=0.5, textangle=-90,
                     xanchor="center", yanchor="middle", showarrow=False,
                     text=y_label, font=dict(family=FONT, size=20, color=TXT)))
    layout[leg] = dict(orientation="h", x=fx(639), xanchor="center", y=fy(legend_center_y[r]),
                       yanchor="middle", bgcolor="white", bordercolor="#7a7a7a", borderwidth=1,
                       font=dict(family=FONT, size=20, color=TXT), traceorder="normal")

fig.update_layout(**layout)
fig.update_layout(showlegend=True)
fig.write_html("out.html")
